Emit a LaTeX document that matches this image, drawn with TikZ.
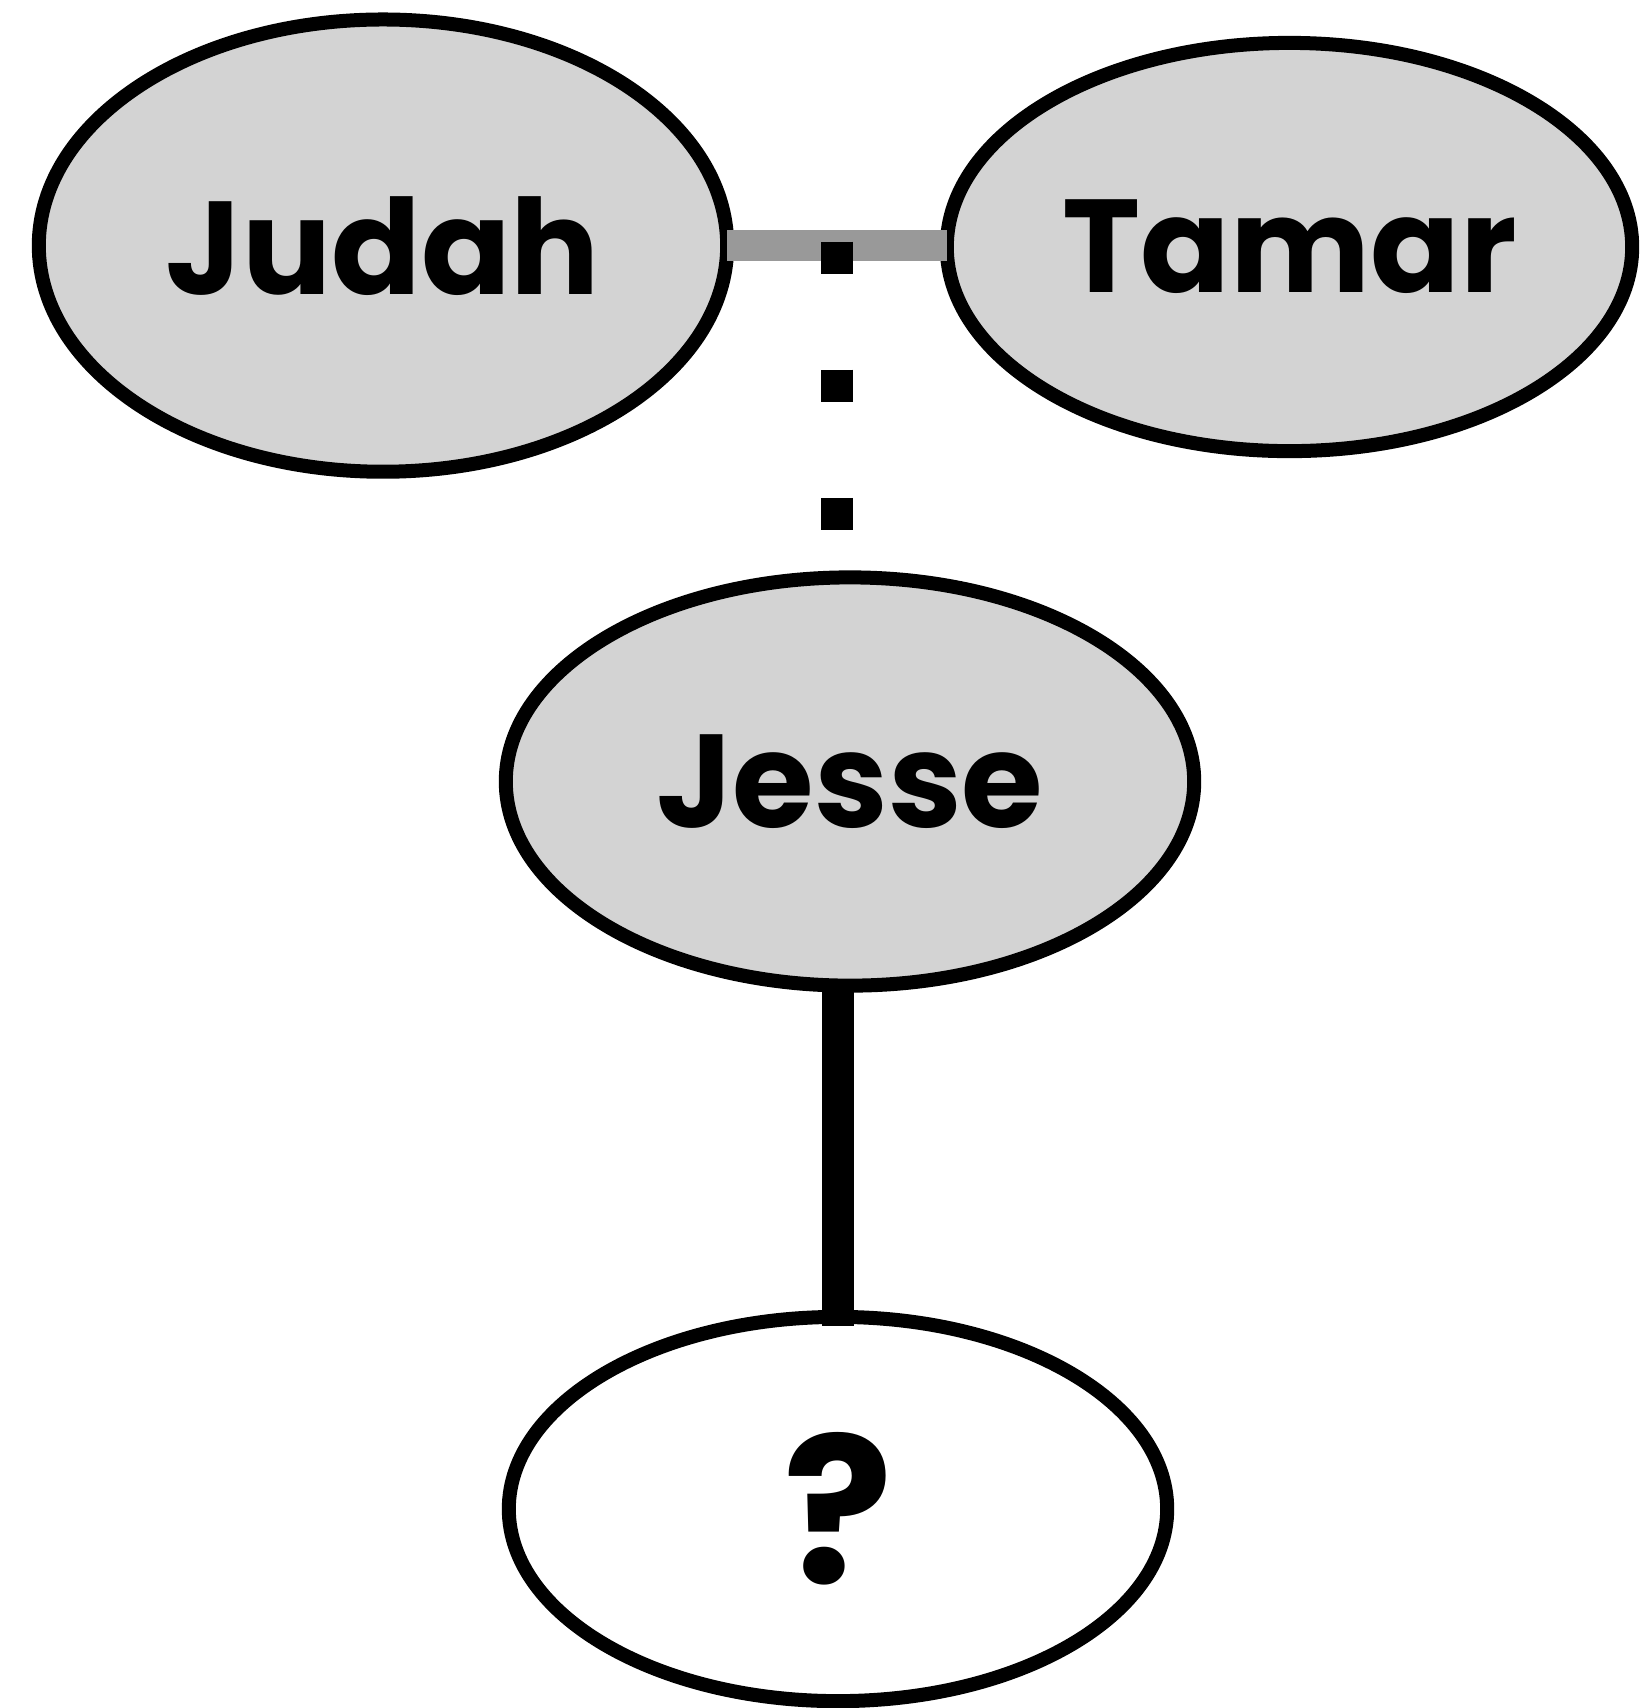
\documentclass[tikz,border=0pt]{standalone}
\usepackage{fontspec}
\setmainfont{Poppins}
\usepackage{xcolor}
\usepackage{tikz}
\usetikzlibrary{shapes.geometric, positioning, calc}

\definecolor{persongray}{HTML}{D3D3D3}
\definecolor{bargray}{HTML}{999999}

\begin{document}
\begin{tikzpicture}[
    x=0.01cm, y=-0.01cm,
    person/.style={ellipse, draw, line width=0.14cm, outer sep=0pt, inner sep=0pt, font=\bfseries\fontsize{37.6}{45}\selectfont},
    known/.style={person, fill=persongray},
    unknown/.style={person, fill=white, font=\bfseries\fontsize{58}{70}\selectfont},
    couple/.style={draw=bargray, line width=0.316cm},
    lineage/.style={line width=0.32cm, dash pattern=on 0.32cm off 0.96cm},
    parent/.style={line width=0.32cm},
]
    \useasboundingbox (0,0) rectangle (1640,1708);

    % Couple
    \node[known, minimum width=6.88cm, minimum height=4.52cm] (judah) at (383,245.6) {Judah};
    \node[known, minimum width=6.85cm, minimum height=4.08cm] (tamar) at (1289.5,247) {Tamar};

    % Descendants
    \node[known, minimum width=6.88cm, minimum height=4.08cm] (jesse) at (850,781.5) {Jesse};
    \node[unknown, minimum width=6.58cm, minimum height=3.84cm] (unknownchild) at (838,1509) {?};

    % --- Connectors ---
    \draw[couple] (judah.east) -- (judah.east -| tamar.west);
    \coordinate (mid) at ($(judah.east)!0.5!(judah.east -| tamar.west)$);

    % Many generations between (dotted)
    \draw[lineage] ([yshift=0.04cm]mid) -- (mid |- jesse.north);

    % Jesse to child
    \draw[parent] (jesse.south -| unknownchild.north) -- ([yshift=-0.09cm]unknownchild.north);

\end{tikzpicture}
\end{document}
